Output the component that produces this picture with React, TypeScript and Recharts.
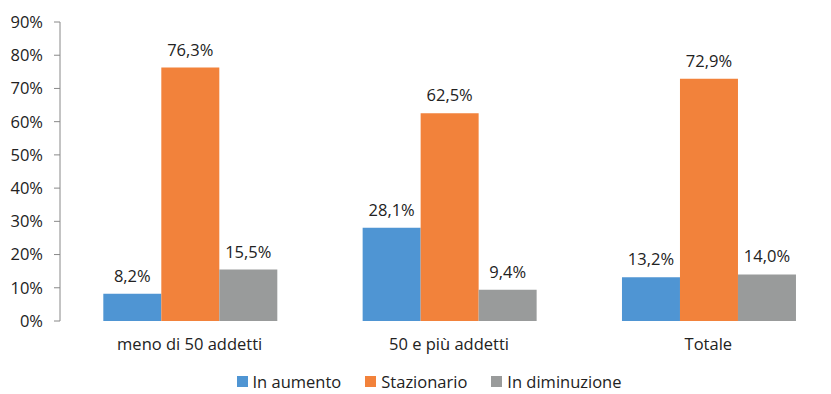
import { BarChart, Bar, XAxis, YAxis, LabelList, Legend } from "recharts";

const categories = ["meno di 50 addetti", "50 e più addetti", "Totale"];
const inAumento = [8.2, 28.1, 13.2];
const stazionario = [76.3, 62.5, 72.9];
const inDiminuzione = [15.5, 9.4, 14.0];
const yTicks = [0, 10, 20, 30, 40, 50, 60, 70, 80, 90];

const seriesInfo = [
  { key: "aumento", name: "In aumento", color: "#4F95D3" },
  { key: "stazionario", name: "Stazionario", color: "#F2823B" },
  { key: "diminuzione", name: "In diminuzione", color: "#999B9B" },
];

const data = categories.map((c, i) => ({
  name: c,
  idx: i + 0.5,
  aumento: inAumento[i],
  stazionario: stazionario[i],
  diminuzione: inDiminuzione[i],
}));

const font = "'Open Sans', sans-serif";
const fmt = (v: any) => `${Number(v).toFixed(1).replace(".", ",")}%`;

const LegendContent = () => (
  <div
    style={{
      display: "flex",
      justifyContent: "center",
      alignItems: "flex-start",
      boxSizing: "border-box",
      height: 28,
      paddingTop: 4,
      paddingLeft: 20,
      fontFamily: font,
      fontSize: 16.5,
      color: "#222",
    }}
  >
    {seriesInfo.map((s) => (
      <div key={s.key} style={{ display: "flex", alignItems: "center", margin: "0 12px" }}>
        <span style={{ width: 11, height: 11, background: s.color, display: "inline-block", marginRight: 5 }} />
        <span>{s.name}</span>
      </div>
    ))}
  </div>
);

export default function App() {
  return (
    <div style={{ position: "absolute", left: 0, top: 0, width: 831, height: 394, overflow: "hidden", background: "#fff" }}>
      <BarChart
        width={838}
        height={394}
        data={data}
        margin={{ top: 22, right: 0, left: 0, bottom: 0 }}
        barGap={0}
        barCategoryGap="16.7%"
      >
        <XAxis
          xAxisId="bounds"
          type="number"
          dataKey="idx"
          domain={[0, 3]}
          ticks={[0, 1, 2, 3]}
          height={0}
          stroke="#888"
          tickSize={6}
          tick={() => <g />}
        />
        <XAxis
          dataKey="name"
          height={45}
          axisLine={false}
          tickLine={false}
          tickSize={0}
          tickMargin={17}
          tick={{ fill: "#222", fontSize: 16.5, fontFamily: font }}
        />
        <YAxis
          width={60}
          domain={[0, 90]}
          ticks={yTicks}
          tickFormatter={(v) => `${v}%`}
          stroke="#888"
          tickSize={6}
          tickMargin={11}
          tick={{ fill: "#222", fontSize: 16.5, fontFamily: font }}
          interval={0}
        />
        <Legend verticalAlign="bottom" height={28} content={<LegendContent />} />
        {seriesInfo.map((s) => (
          <Bar key={s.key} dataKey={s.key} name={s.name} fill={s.color} isAnimationActive={false}>
            <LabelList dataKey={s.key} position="top" offset={12} formatter={fmt} fill="#222" fontSize={16.5} fontFamily={font} />
          </Bar>
        ))}
      </BarChart>
    </div>
  );
}
